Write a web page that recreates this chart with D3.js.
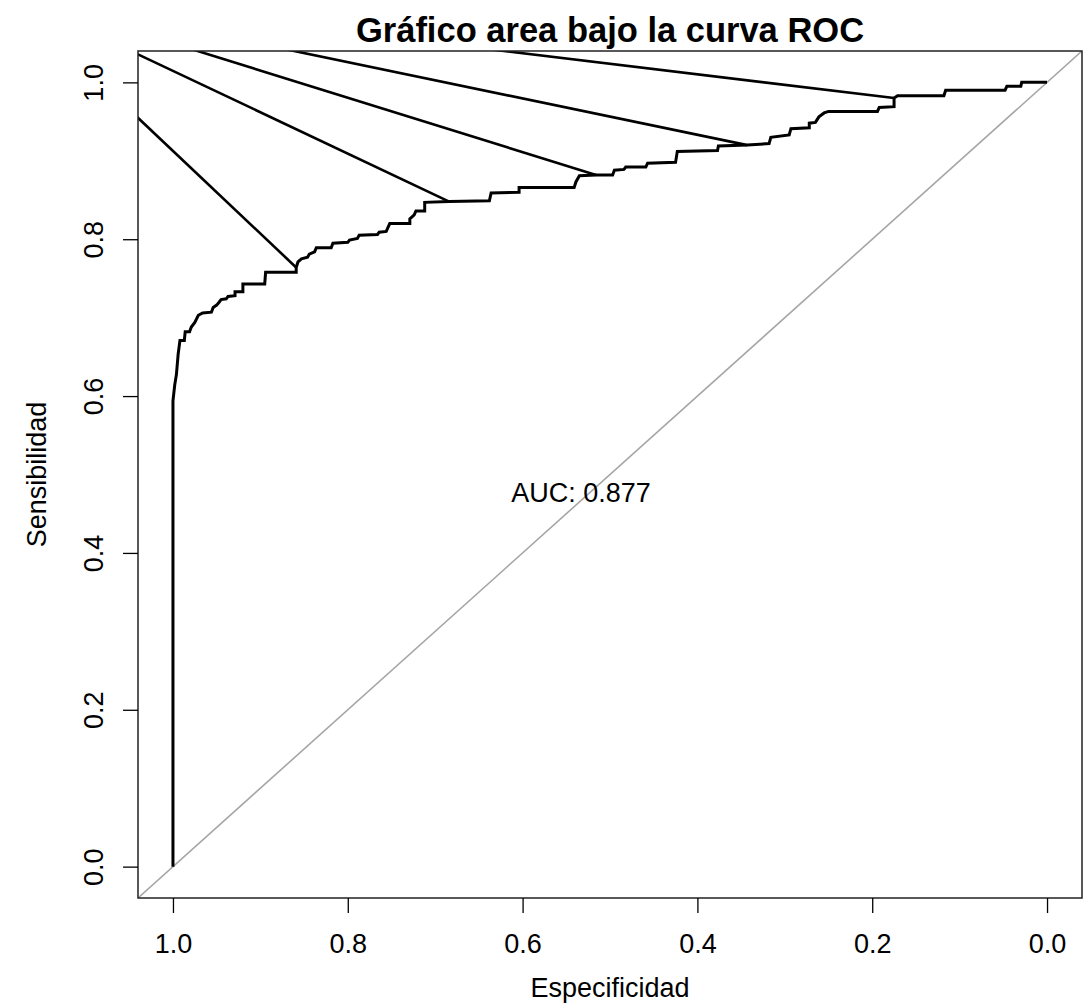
<!DOCTYPE html>
<html>
<head>
<meta charset="utf-8">
<script src="https://cdn.jsdelivr.net/npm/d3@7"></script>
<style>
  body { margin: 0; background: #fff; }
  text { font-family: "Liberation Sans", Arial, sans-serif; }
</style>
</head>
<body>
<div id="chart"></div>
<script>
// Curva ROC (especificidad, sensibilidad)
const especificidad = [1.0, 1.0, 0.998, 0.996, 0.994, 0.992, 0.987, 0.986, 0.981, 0.979, 0.975, 0.971, 0.966, 0.956,
  0.954, 0.950, 0.947, 0.945, 0.939, 0.937, 0.929, 0.929, 0.920, 0.920, 0.895, 0.894, 0.859, 0.859,
  0.857, 0.853, 0.846, 0.844, 0.838, 0.836, 0.819, 0.817, 0.800, 0.798, 0.789, 0.787, 0.766, 0.764,
  0.756, 0.752, 0.729, 0.729, 0.724, 0.722, 0.712, 0.712, 0.684, 0.638, 0.636, 0.604, 0.604, 0.541,
  0.539, 0.535, 0.516, 0.497, 0.495, 0.484, 0.482, 0.459, 0.457, 0.425, 0.423, 0.377, 0.376, 0.343,
  0.318, 0.316, 0.295, 0.293, 0.272, 0.272, 0.265, 0.261, 0.255, 0.250, 0.194, 0.192, 0.175, 0.175,
  0.171, 0.118, 0.116, 0.048, 0.046, 0.030, 0.029, 0.0];
const sensibilidad = [0.0, 0.594, 0.614, 0.628, 0.654, 0.671, 0.671, 0.682, 0.682, 0.688, 0.694, 0.703, 0.706, 0.707,
  0.713, 0.716, 0.720, 0.723, 0.724, 0.727, 0.728, 0.733, 0.733, 0.743, 0.743, 0.758, 0.758, 0.764,
  0.771, 0.775, 0.777, 0.781, 0.784, 0.789, 0.789, 0.795, 0.796, 0.799, 0.801, 0.805, 0.806, 0.809,
  0.810, 0.820, 0.820, 0.826, 0.831, 0.836, 0.836, 0.847, 0.848, 0.849, 0.859, 0.860, 0.866, 0.866,
  0.873, 0.881, 0.882, 0.882, 0.888, 0.889, 0.892, 0.892, 0.897, 0.898, 0.912, 0.913, 0.919, 0.920,
  0.922, 0.930, 0.933, 0.941, 0.942, 0.948, 0.949, 0.956, 0.961, 0.963, 0.963, 0.968, 0.969, 0.980,
  0.983, 0.983, 0.990, 0.990, 0.995, 0.995, 1.0, 1.0];

// Segmentos desde un punto común hasta puntos de la curva
const origenEsp = 1.194;
const origenSens = 1.117;
const corteEsp = [0.859, 0.684, 0.516, 0.343, 0.175];
const corteSens = [0.764, 0.848, 0.882, 0.920, 0.980];

const ticks = [1.0, 0.8, 0.6, 0.4, 0.2, 0.0];
const auc = 0.877;

const width = 1092, height = 1003;
const mLeft = 138, mRight = 1082, mTop = 51, mBottom = 898;

const svg = d3.select("#chart").append("svg")
  .attr("width", width)
  .attr("height", height);

const x = d3.scaleLinear().domain([1.04, -0.04]).range([mLeft, mRight]);
const y = d3.scaleLinear().domain([-0.04, 1.04]).range([mBottom, mTop]);

svg.append("clipPath").attr("id", "clip")
  .append("rect")
  .attr("x", mLeft).attr("y", mTop)
  .attr("width", mRight - mLeft).attr("height", mBottom - mTop);

const plot = svg.append("g").attr("clip-path", "url(#clip)");

// diagonal de referencia
plot.append("line")
  .attr("x1", x(1.04)).attr("y1", y(-0.04))
  .attr("x2", x(-0.04)).attr("y2", y(1.04))
  .attr("stroke", "#a6a6a6")
  .attr("stroke-width", 1.6);

// segmentos
plot.selectAll(".seg")
  .data(corteEsp.map((e, i) => [e, corteSens[i]]))
  .join("line")
  .attr("class", "seg")
  .attr("x1", x(origenEsp)).attr("y1", y(origenSens))
  .attr("x2", d => x(d[0])).attr("y2", d => y(d[1]))
  .attr("stroke", "#000")
  .attr("stroke-width", 2.6);

// curva ROC
const puntos = especificidad.map((e, i) => [e, sensibilidad[i]]);
plot.append("path")
  .datum(puntos)
  .attr("fill", "none")
  .attr("stroke", "#000")
  .attr("stroke-width", 3)
  .attr("stroke-linejoin", "miter")
  .attr("d", d3.line().x(d => x(d[0])).y(d => y(d[1])));

// caja
svg.append("rect")
  .attr("x", mLeft).attr("y", mTop)
  .attr("width", mRight - mLeft).attr("height", mBottom - mTop)
  .attr("fill", "none")
  .attr("stroke", "#222")
  .attr("stroke-width", 1.5);

// ejes
const fmt = d3.format(".1f");
const xAxis = svg.append("g")
  .attr("transform", `translate(0, ${mBottom})`)
  .call(d3.axisBottom(x).tickValues(ticks).tickFormat(fmt).tickSize(15).tickPadding(21));
xAxis.select(".domain").remove();
xAxis.selectAll("line").attr("stroke", "#000").attr("stroke-width", 1.3);
xAxis.selectAll("text").attr("font-size", 27).attr("fill", "#000")
  .attr("font-family", "Liberation Sans, Arial, sans-serif");

const yAxis = svg.append("g")
  .attr("transform", `translate(${mLeft}, 0)`)
  .call(d3.axisLeft(y).tickValues(ticks).tickFormat(fmt).tickSize(15));
yAxis.select(".domain").remove();
yAxis.selectAll("line").attr("stroke", "#000").attr("stroke-width", 1.3);
yAxis.selectAll("text")
  .attr("transform", "rotate(-90)")
  .attr("x", 0).attr("y", -44).attr("dy", "0.35em")
  .attr("text-anchor", "middle")
  .attr("font-size", 27).attr("fill", "#000")
  .attr("font-family", "Liberation Sans, Arial, sans-serif");

// textos
svg.append("text")
  .attr("x", (mLeft + mRight) / 2).attr("y", 42)
  .attr("text-anchor", "middle")
  .attr("font-size", 34.5).attr("font-weight", "bold")
  .text("Gráfico area bajo la curva ROC");

svg.append("text")
  .attr("x", (mLeft + mRight) / 2).attr("y", 997)
  .attr("text-anchor", "middle")
  .attr("font-size", 27)
  .text("Especificidad");

svg.append("text")
  .attr("transform", `translate(46, ${(mTop + mBottom) / 2}) rotate(-90)`)
  .attr("text-anchor", "middle")
  .attr("font-size", 27)
  .text("Sensibilidad");

svg.append("text")
  .attr("x", x(0.613)).attr("y", y(0.477))
  .attr("dy", "0.35em")
  .attr("font-size", 27)
  .text("AUC: " + auc.toFixed(3));
</script>
</body>
</html>
